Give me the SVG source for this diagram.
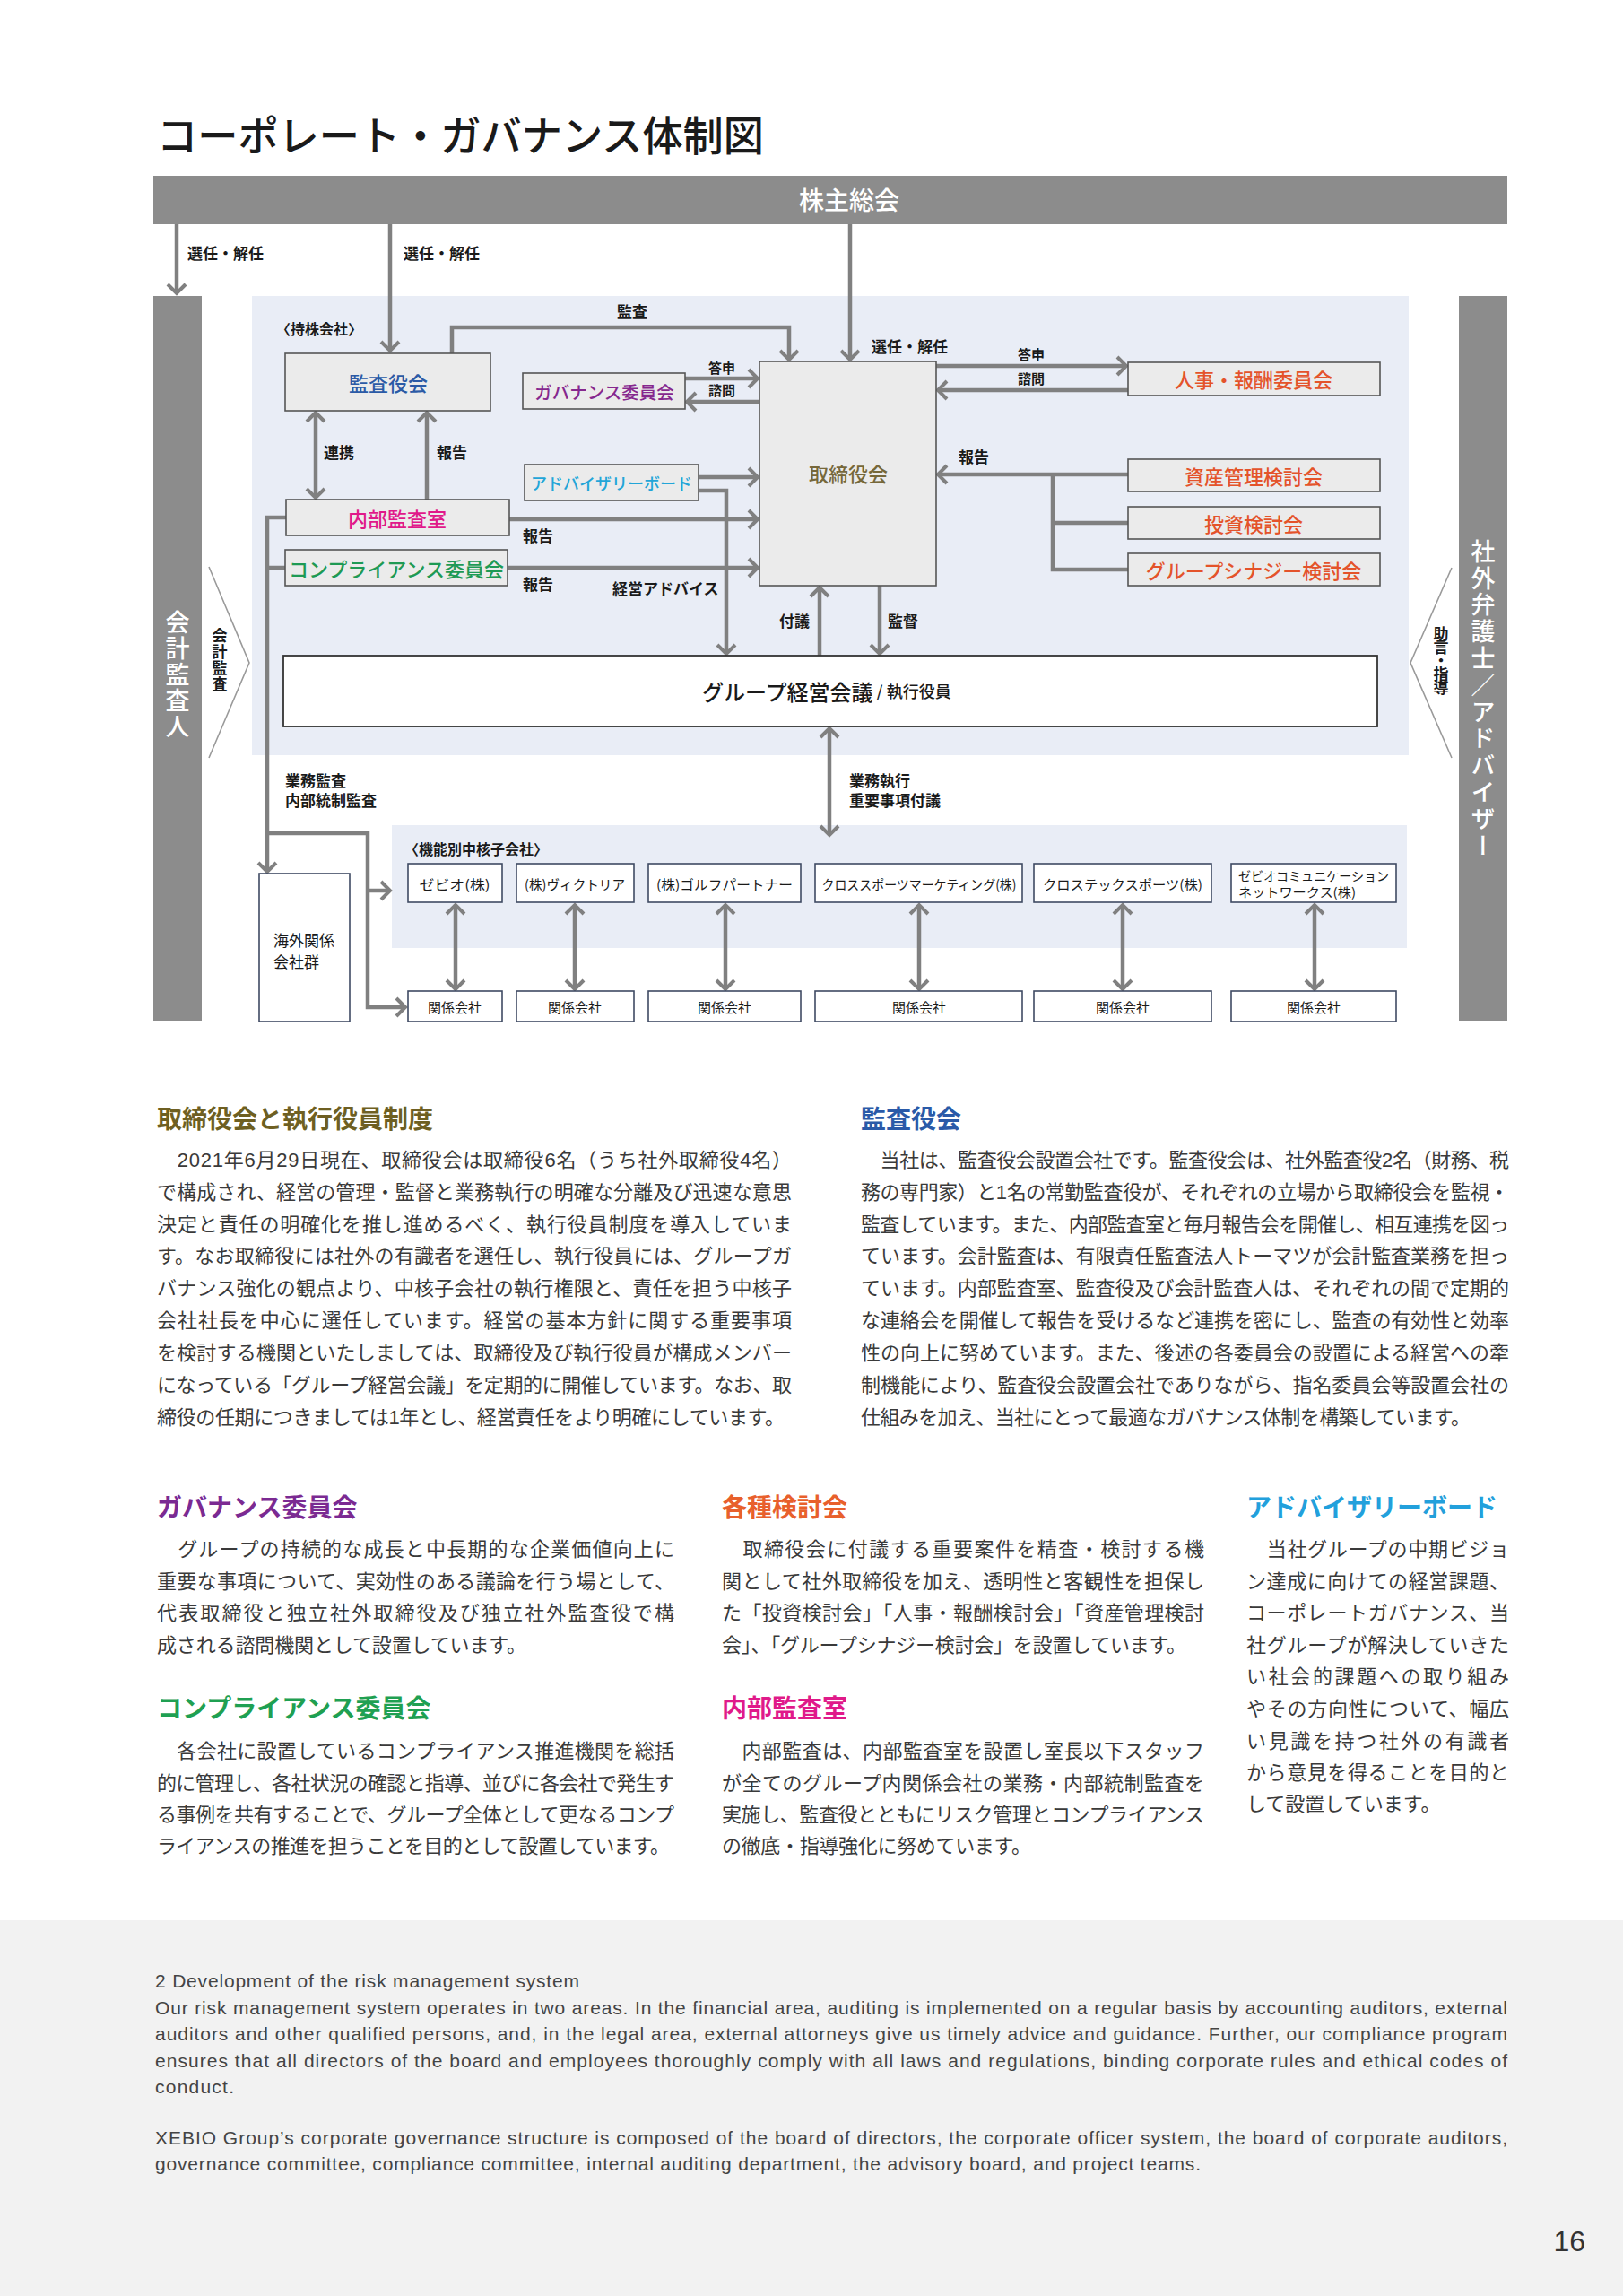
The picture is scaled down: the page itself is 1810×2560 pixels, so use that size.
<svg xmlns="http://www.w3.org/2000/svg" width="1810" height="2560" viewBox="0 0 1810 2560">
<style>
text{font-family:"Liberation Sans","Noto Sans CJK JP",sans-serif;dominant-baseline:central}
.jp{font-family:"Noto Sans CJK JP","Noto Sans CJK SC",sans-serif}
.lbl{font-size:17px;font-weight:bold;fill:#1a1a1a}
.mid{text-anchor:middle}
.bar{fill:#8c8c8c}
.panel{fill:#e9edf6}
.box{fill:#ebebeb;stroke:#555;stroke-width:1.6}
.wbox{fill:#fff;stroke:#3f4a63;stroke-width:1.6}
.bt{font-size:22px;font-weight:500}
.ct{font-size:15px;fill:#1a1a1a}
.conn{fill:none;stroke:#808080;stroke-width:4.5}
.thin{fill:none;stroke:#9a9a9a;stroke-width:1.6}
.body{font-size:22px;fill:#3a3a3a}
.h{font-size:28px;font-weight:bold}
.en{font-family:"Liberation Sans",sans-serif;font-size:21px;fill:#444}
.vw{fill:#fff;font-size:27px;writing-mode:vertical-rl;font-weight:500}
.vb{fill:#1a1a1a;font-size:17px;writing-mode:vertical-rl;font-weight:bold}
</style>
<defs>
<marker id="ah" viewBox="-13 -13 17 26" markerWidth="17" markerHeight="26" refX="0" refY="0" orient="auto-start-reverse" markerUnits="userSpaceOnUse">
<path d="M-10,-10 L0,0 L-10,10" fill="none" stroke="#808080" stroke-width="4"/>
</marker>
</defs>

<rect width="1810" height="2560" fill="#fff"/>
<rect x="0" y="2141" width="1810" height="419" fill="#f2f2f2"/>

<text class="jp" x="175" y="148" style="font-size:46px" font-weight="500" fill="#1a1a1a" textLength="677" lengthAdjust="spacingAndGlyphs">コーポレート・ガバナンス体制図</text>

<!-- panels -->
<rect class="panel" x="281" y="330" width="1290" height="512"/>
<rect class="panel" x="437" y="920" width="1132" height="137"/>

<g id="shareholders">
<rect class="bar" x="171" y="196" width="1510" height="54"/>
<text class="jp mid" x="947" y="222" style="font-size:28px" font-weight="500" fill="#fff">株主総会</text>
</g>

<g id="accounting-auditor">
<rect class="bar" x="171" y="330" width="54" height="808"/>
<text class="jp vw" x="198" y="680" letter-spacing="2">会計監査人</text>
</g>

<g id="external-advisors">
<rect class="bar" x="1627" y="330" width="54" height="808"/>
<text class="jp vw" x="1654" y="601" letter-spacing="2.8">社外弁護士／アドバイザー</text>
</g>

<g id="chevrons">
<path class="thin" d="M233,632 L278,739 L233,845"/>
<text class="jp vb" x="245" y="700" letter-spacing="1">会計監査</text>
<path class="thin" d="M1619,633 L1573,739 L1619,845"/>
<text class="jp vb" x="1607" y="698" letter-spacing="-2">助言・指導</text>
</g>

<g id="connectors">
<path class="conn" d="M197,250 V327" marker-end="url(#ah)"/>
<path class="conn" d="M435,250 V391" marker-end="url(#ah)"/>
<path class="conn" d="M948,250 V401" marker-end="url(#ah)"/>
<path class="conn" d="M504,394 V365 H880 V401" marker-end="url(#ah)"/>
<path class="conn" d="M764,422 H845" marker-end="url(#ah)"/>
<path class="conn" d="M847,448 H766" marker-end="url(#ah)"/>
<path class="conn" d="M1044,408 H1256" marker-end="url(#ah)"/>
<path class="conn" d="M1258,435 H1046" marker-end="url(#ah)"/>
<path class="conn" d="M1258,529 H1046" marker-end="url(#ah)"/>
<path class="conn" d="M1174,529 V635 H1258 M1174,583 H1258"/>
<path class="conn" d="M352,460 V555" marker-start="url(#ah)" marker-end="url(#ah)"/>
<path class="conn" d="M476,557 V460" marker-end="url(#ah)"/>
<path class="conn" d="M779,532 H845" marker-end="url(#ah)"/>
<path class="conn" d="M568,579 H845" marker-end="url(#ah)"/>
<path class="conn" d="M566,633 H845" marker-end="url(#ah)"/>
<path class="conn" d="M779,547 H810 V729" marker-end="url(#ah)"/>
<path class="conn" d="M914,731 V655" marker-end="url(#ah)"/>
<path class="conn" d="M981,653 V729" marker-end="url(#ah)"/>
<path class="conn" d="M925,812 V931" marker-start="url(#ah)" marker-end="url(#ah)"/>
<path class="conn" d="M319,577 H298 V972" marker-end="url(#ah)"/>
<path class="conn" d="M318,633 H298"/>
<path class="conn" d="M298,929 H410 V1123 H452" marker-end="url(#ah)"/>
<path class="conn" d="M410,993 H435" marker-end="url(#ah)"/>
<path class="conn" d="M508,1009 V1103" marker-start="url(#ah)" marker-end="url(#ah)"/>
<path class="conn" d="M641,1009 V1103" marker-start="url(#ah)" marker-end="url(#ah)"/>
<path class="conn" d="M809,1009 V1103" marker-start="url(#ah)" marker-end="url(#ah)"/>
<path class="conn" d="M1025,1009 V1103" marker-start="url(#ah)" marker-end="url(#ah)"/>
<path class="conn" d="M1252,1009 V1103" marker-start="url(#ah)" marker-end="url(#ah)"/>
<path class="conn" d="M1466,1009 V1103" marker-start="url(#ah)" marker-end="url(#ah)"/>
<g class="jp lbl">
<text x="209" y="283">選任・解任</text>
<text x="450" y="283">選任・解任</text>
<text x="972" y="387">選任・解任</text>
<text class="mid" x="705" y="348">監査</text>
<text class="mid" x="805" y="410" style="font-size:15px">答申</text>
<text class="mid" x="805" y="435" style="font-size:15px">諮問</text>
<text class="mid" x="1150" y="395" style="font-size:15px">答申</text>
<text class="mid" x="1150" y="422" style="font-size:15px">諮問</text>
<text x="1069" y="510">報告</text>
<text x="361" y="505">連携</text>
<text x="487" y="505">報告</text>
<text x="583" y="598">報告</text>
<text x="583" y="652">報告</text>
<text x="683" y="657">経営アドバイス</text>
<text x="869" y="693">付議</text>
<text x="990" y="693">監督</text>
<text x="318" y="871">業務監査</text>
<text x="318" y="893">内部統制監査</text>
<text x="947" y="871">業務執行</text>
<text x="947" y="893">重要事項付議</text>
<text x="308" y="367" style="font-size:16px">〈持株会社〉</text>
<text x="451" y="947" style="font-size:16px">〈機能別中核子会社〉</text>
</g>
</g>

<g id="audit-board">
<rect class="box" x="318" y="394" width="229" height="64"/>
<text class="jp mid bt" x="433" y="426" fill="#2b5aa6">監査役会</text>
</g>
<g id="governance-committee">
<rect class="box" x="583" y="416" width="181" height="40"/>
<text class="jp mid bt" x="674" y="436" style="font-size:19.5px" fill="#86288e">ガバナンス委員会</text>
</g>
<g id="board-of-directors">
<rect class="box" x="847" y="403" width="197" height="250"/>
<text class="jp mid bt" x="946" y="527" fill="#76683a">取締役会</text>
</g>
<g id="nomination-committee">
<rect class="box" x="1258" y="404" width="281" height="37"/>
<text class="jp mid bt" x="1398" y="422" fill="#e4532a">人事・報酬委員会</text>
</g>
<g id="asset-review">
<rect class="box" x="1258" y="512" width="281" height="36"/>
<text class="jp mid bt" x="1398" y="530" fill="#e4532a">資産管理検討会</text>
</g>
<g id="investment-review">
<rect class="box" x="1258" y="565" width="281" height="36"/>
<text class="jp mid bt" x="1398" y="583" fill="#e4532a">投資検討会</text>
</g>
<g id="synergy-review">
<rect class="box" x="1258" y="617" width="281" height="36"/>
<text class="jp mid bt" x="1398" y="635" fill="#e4532a">グループシナジー検討会</text>
</g>
<g id="advisory-board">
<rect class="box" x="585" y="518" width="194" height="40"/>
<text class="jp mid bt" x="682" y="538" style="font-size:18px" fill="#22a5d8">アドバイザリーボード</text>
</g>
<g id="internal-audit">
<rect class="box" x="319" y="557" width="249" height="40"/>
<text class="jp mid bt" x="443" y="577" fill="#e0198a">内部監査室</text>
</g>
<g id="compliance-committee">
<rect class="box" x="318" y="613" width="248" height="40"/>
<text class="jp mid bt" x="442" y="633" fill="#1e9a54">コンプライアンス委員会</text>
</g>
<g id="group-management">
<rect x="316" y="731" width="1220" height="79" fill="#fff" stroke="#333" stroke-width="1.8"/>
<text class="jp" x="783" y="770" fill="#1a1a1a" font-weight="500"><tspan style="font-size:24px">グループ経営会議</tspan><tspan style="font-size:18px"> / 執行役員</tspan></text>
</g>
<g id="overseas">
<rect class="wbox" x="289" y="974" width="101" height="165"/>
<text class="jp ct" x="305" y="1047" style="font-size:17px">海外関係</text>
<text class="jp ct" x="305" y="1071" style="font-size:17px">会社群</text>
</g>
<g id="xebio">
<rect class="wbox" x="455" y="963" width="105" height="43"/>
<text class="jp ct mid" x="507" y="985" textLength="79" lengthAdjust="spacingAndGlyphs">ゼビオ(株)</text>
</g>
<g id="victoria">
<rect class="wbox" x="576" y="963" width="131" height="43"/>
<text class="jp ct mid" x="641" y="985" textLength="112" lengthAdjust="spacingAndGlyphs">(株)ヴィクトリア</text>
</g>
<g id="golfpartner">
<rect class="wbox" x="723" y="963" width="170" height="43"/>
<text class="jp ct mid" x="808" y="985" textLength="152" lengthAdjust="spacingAndGlyphs">(株)ゴルフパートナー</text>
</g>
<g id="xsm">
<rect class="wbox" x="909" y="963" width="231" height="43"/>
<text class="jp ct mid" x="1025" y="985" textLength="217" lengthAdjust="spacingAndGlyphs">クロススポーツマーケティング(株)</text>
</g>
<g id="xtech">
<rect class="wbox" x="1153" y="963" width="198" height="43"/>
<text class="jp ct mid" x="1252" y="985" textLength="178" lengthAdjust="spacingAndGlyphs">クロステックスポーツ(株)</text>
</g>
<g id="xcn">
<rect class="wbox" x="1373" y="963" width="184" height="43"/>
<text class="jp ct" x="1381" y="976" style="font-size:14px" textLength="168" lengthAdjust="spacingAndGlyphs">ゼビオコミュニケーション</text>
<text class="jp ct" x="1381" y="994" style="font-size:14px" textLength="131" lengthAdjust="spacingAndGlyphs">ネットワークス(株)</text>
</g>
<g id="affiliates">
<rect class="wbox" x="455" y="1105" width="105" height="34"/>
<text class="jp ct mid" x="507" y="1122">関係会社</text>
<rect class="wbox" x="576" y="1105" width="131" height="34"/>
<text class="jp ct mid" x="641" y="1122">関係会社</text>
<rect class="wbox" x="723" y="1105" width="170" height="34"/>
<text class="jp ct mid" x="808" y="1122">関係会社</text>
<rect class="wbox" x="909" y="1105" width="231" height="34"/>
<text class="jp ct mid" x="1025" y="1122">関係会社</text>
<rect class="wbox" x="1153" y="1105" width="198" height="34"/>
<text class="jp ct mid" x="1252" y="1122">関係会社</text>
<rect class="wbox" x="1373" y="1105" width="184" height="34"/>
<text class="jp ct mid" x="1465" y="1122">関係会社</text>
</g>

<!-- Text sections -->
<g class="jp">
<text class="h" x="175" y="1248" fill="#6e5f22">取締役会と執行役員制度</text>
<g class="body">
<text x="175" y="1293" textLength="708" lengthAdjust="spacing">　2021年6月29日現在、取締役会は取締役6名（うち社外取締役4名）</text>
<text x="175" y="1329" textLength="708" lengthAdjust="spacing">で構成され、経営の管理・監督と業務執行の明確な分離及び迅速な意思</text>
<text x="175" y="1365" textLength="708" lengthAdjust="spacing">決定と責任の明確化を推し進めるべく、執行役員制度を導入していま</text>
<text x="175" y="1400" textLength="708" lengthAdjust="spacing">す。なお取締役には社外の有識者を選任し、執行役員には、グループガ</text>
<text x="175" y="1436" textLength="708" lengthAdjust="spacing">バナンス強化の観点より、中核子会社の執行権限と、責任を担う中核子</text>
<text x="175" y="1472" textLength="708" lengthAdjust="spacing">会社社長を中心に選任しています。経営の基本方針に関する重要事項</text>
<text x="175" y="1508" textLength="708" lengthAdjust="spacing">を検討する機関といたしましては、取締役及び執行役員が構成メンバー</text>
<text x="175" y="1544" textLength="708" lengthAdjust="spacing">になっている「グループ経営会議」を定期的に開催しています。なお、取</text>
<text x="175" y="1580" textLength="700" lengthAdjust="spacing">締役の任期につきましては1年とし、経営責任をより明確にしています。</text>
</g>

<text class="h" x="960" y="1248" fill="#2a5aa8">監査役会</text>
<g class="body">
<text x="960" y="1293" textLength="723" lengthAdjust="spacing">　当社は、監査役会設置会社です。監査役会は、社外監査役2名（財務、税</text>
<text x="960" y="1329" textLength="723" lengthAdjust="spacing">務の専門家）と1名の常勤監査役が、それぞれの立場から取締役会を監視・</text>
<text x="960" y="1365" textLength="723" lengthAdjust="spacing">監査しています。また、内部監査室と毎月報告会を開催し、相互連携を図っ</text>
<text x="960" y="1400" textLength="723" lengthAdjust="spacing">ています。会計監査は、有限責任監査法人トーマツが会計監査業務を担っ</text>
<text x="960" y="1436" textLength="723" lengthAdjust="spacing">ています。内部監査室、監査役及び会計監査人は、それぞれの間で定期的</text>
<text x="960" y="1472" textLength="723" lengthAdjust="spacing">な連絡会を開催して報告を受けるなど連携を密にし、監査の有効性と効率</text>
<text x="960" y="1508" textLength="723" lengthAdjust="spacing">性の向上に努めています。また、後述の各委員会の設置による経営への牽</text>
<text x="960" y="1544" textLength="723" lengthAdjust="spacing">制機能により、監査役会設置会社でありながら、指名委員会等設置会社の</text>
<text x="960" y="1580" textLength="680" lengthAdjust="spacing">仕組みを加え、当社にとって最適なガバナンス体制を構築しています。</text>
</g>

<text class="h" x="175" y="1681" fill="#7b2a92">ガバナンス委員会</text>
<g class="body">
<text x="175" y="1727" textLength="577" lengthAdjust="spacing">　グループの持続的な成長と中長期的な企業価値向上に</text>
<text x="175" y="1763" textLength="577" lengthAdjust="spacing">重要な事項について、実効性のある議論を行う場として、</text>
<text x="175" y="1798" textLength="577" lengthAdjust="spacing">代表取締役と独立社外取締役及び独立社外監査役で構</text>
<text x="175" y="1834" textLength="412" lengthAdjust="spacing">成される諮問機関として設置しています。</text>
</g>

<text class="h" x="175" y="1905" fill="#1fa052">コンプライアンス委員会</text>
<g class="body">
<text x="175" y="1952" textLength="577" lengthAdjust="spacing">　各会社に設置しているコンプライアンス推進機関を総括</text>
<text x="175" y="1988" textLength="577" lengthAdjust="spacing">的に管理し、各社状況の確認と指導、並びに各会社で発生す</text>
<text x="175" y="2023" textLength="577" lengthAdjust="spacing">る事例を共有することで、グループ全体として更なるコンプ</text>
<text x="175" y="2058" textLength="572" lengthAdjust="spacing">ライアンスの推進を担うことを目的として設置しています。</text>
</g>

<text class="h" x="805" y="1681" fill="#e8602c">各種検討会</text>
<g class="body">
<text x="805" y="1727" textLength="538" lengthAdjust="spacing">　取締役会に付議する重要案件を精査・検討する機</text>
<text x="805" y="1763" textLength="538" lengthAdjust="spacing">関として社外取締役を加え、透明性と客観性を担保し</text>
<text x="805" y="1798" textLength="538" lengthAdjust="spacing">た「投資検討会」「人事・報酬検討会」「資産管理検討</text>
<text x="805" y="1834" textLength="518" lengthAdjust="spacing">会」、「グループシナジー検討会」を設置しています。</text>
</g>

<text class="h" x="805" y="1905" fill="#e01a8a">内部監査室</text>
<g class="body">
<text x="805" y="1952" textLength="538" lengthAdjust="spacing">　内部監査は、内部監査室を設置し室長以下スタッフ</text>
<text x="805" y="1988" textLength="538" lengthAdjust="spacing">が全てのグループ内関係会社の業務・内部統制監査を</text>
<text x="805" y="2023" textLength="538" lengthAdjust="spacing">実施し、監査役とともにリスク管理とコンプライアンス</text>
<text x="805" y="2058" textLength="345" lengthAdjust="spacing">の徹底・指導強化に努めています。</text>
</g>

<text class="h" x="1390" y="1681" fill="#22a0dc">アドバイザリーボード</text>
<g class="body">
<text x="1390" y="1727" textLength="293" lengthAdjust="spacing">　当社グループの中期ビジョ</text>
<text x="1390" y="1763" textLength="293" lengthAdjust="spacing">ン達成に向けての経営課題、</text>
<text x="1390" y="1798" textLength="293" lengthAdjust="spacing">コーポレートガバナンス、当</text>
<text x="1390" y="1834" textLength="293" lengthAdjust="spacing">社グループが解決していきた</text>
<text x="1390" y="1869" textLength="293" lengthAdjust="spacing">い社会的課題への取り組み</text>
<text x="1390" y="1905" textLength="293" lengthAdjust="spacing">やその方向性について、幅広</text>
<text x="1390" y="1941" textLength="293" lengthAdjust="spacing">い見識を持つ社外の有識者</text>
<text x="1390" y="1976" textLength="293" lengthAdjust="spacing">から意見を得ることを目的と</text>
<text x="1390" y="2011">して設置しています。</text>
</g>
</g>

<g class="en">
<text x="173" y="2208" textLength="473" lengthAdjust="spacing">2 Development of the risk management system</text>
<text x="173" y="2238" textLength="1508" lengthAdjust="spacing">Our risk management system operates in two areas. In the financial area, auditing is implemented on a regular basis by accounting auditors, external</text>
<text x="173" y="2267" textLength="1508" lengthAdjust="spacing">auditors and other qualified persons, and, in the legal area, external attorneys give us timely advice and guidance. Further, our compliance program</text>
<text x="173" y="2297" textLength="1508" lengthAdjust="spacing">ensures that all directors of the board and employees thoroughly comply with all laws and regulations, binding corporate rules and ethical codes of</text>
<text x="173" y="2326" textLength="88" lengthAdjust="spacing">conduct.</text>
<text x="173" y="2383" textLength="1508" lengthAdjust="spacing">XEBIO Group’s corporate governance structure is composed of the board of directors, the corporate officer system, the board of corporate auditors,</text>
<text x="173" y="2412" textLength="1166" lengthAdjust="spacing">governance committee, compliance committee, internal auditing department, the advisory board, and project teams.</text>
</g>
<text x="1768" y="2499" style="font-size:32px" fill="#333" text-anchor="end">16</text>
</svg>
